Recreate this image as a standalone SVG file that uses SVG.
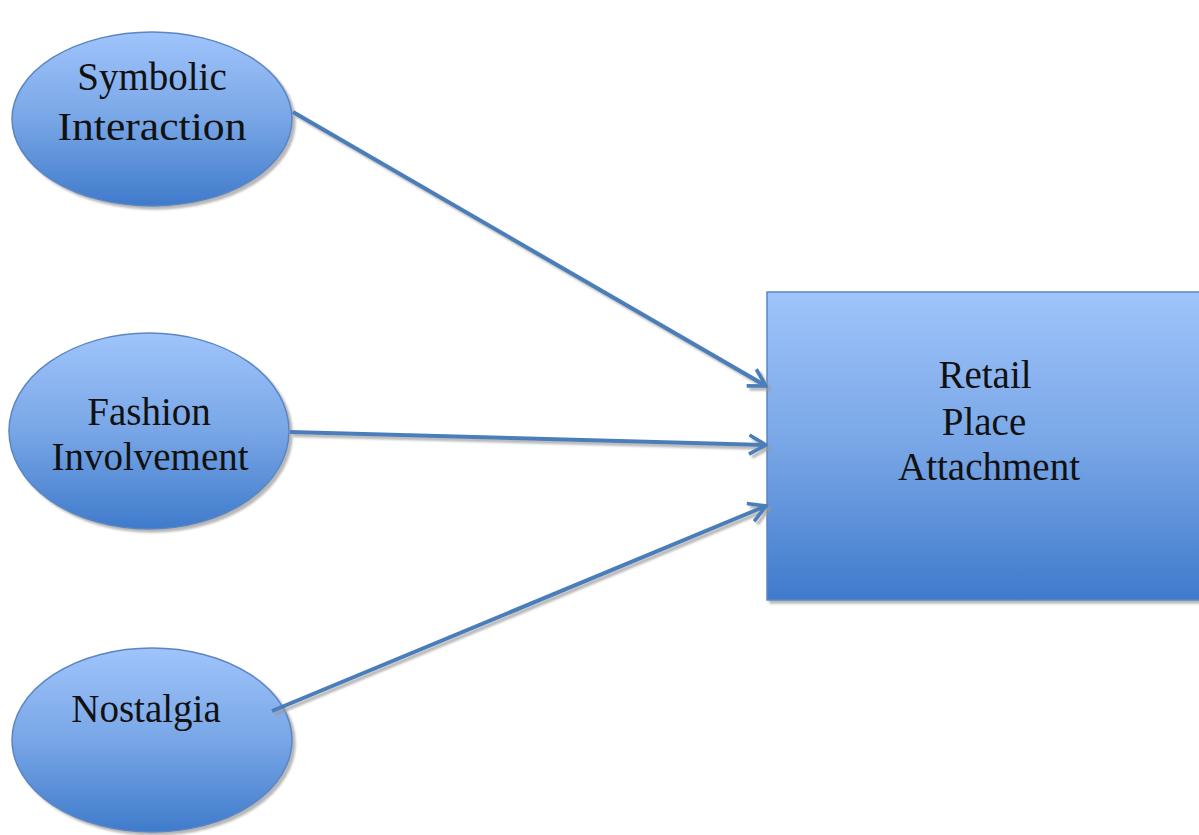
<svg xmlns="http://www.w3.org/2000/svg" width="1199" height="835" viewBox="0 0 1199 835">
<style>
.lbl{font-family:"Liberation Serif","Times New Roman",serif;font-size:39px;fill:#111;text-anchor:middle}
.node{stroke:#5A86C4;stroke-width:1.5}
.conn{fill:none;stroke:#4A7EBB;stroke-width:4;marker-end:url(#arr)}
</style>
<defs>
<linearGradient id="g" x1="0" y1="0" x2="0" y2="1">
<stop offset="0" stop-color="#A0C4FB"/>
<stop offset="0.5" stop-color="#78A6E6"/>
<stop offset="1" stop-color="#3F7BCB"/>
</linearGradient>
<filter id="sh" x="-10%" y="-10%" width="120%" height="120%">
<feDropShadow dx="3" dy="3" stdDeviation="1" flood-color="#999" flood-opacity="0.7"/>
</filter>
<marker id="arr" viewBox="0 0 20 20" refX="18" refY="10" markerWidth="6" markerHeight="6" markerUnits="strokeWidth" orient="auto">
<polyline points="4,2 18,10 4,18" fill="none" stroke="#4A7EBB" stroke-width="3"/>
</marker>
</defs>
<g id="symbolic">
<ellipse class="node" cx="152" cy="119" rx="140" ry="87" fill="url(#g)" filter="url(#sh)"/>
<text class="lbl" x="152" y="90">Symbolic</text>
<text class="lbl" x="152" y="140" textLength="189" lengthAdjust="spacingAndGlyphs">Interaction</text>
</g>
<g id="fashion">
<ellipse class="node" cx="149" cy="431" rx="140" ry="98" fill="url(#g)" filter="url(#sh)"/>
<text class="lbl" x="149" y="425">Fashion</text>
<text class="lbl" x="150" y="470">Involvement</text>
</g>
<g id="nostalgia">
<ellipse class="node" cx="152" cy="740" rx="140" ry="92" fill="url(#g)" filter="url(#sh)"/>
<text class="lbl" x="146" y="722">Nostalgia</text>
</g>
<g id="retail">
<rect class="node" x="767" y="292" width="440" height="308" fill="url(#g)" filter="url(#sh)"/>
<text class="lbl" x="985" y="388">Retail</text>
<text class="lbl" x="984" y="435">Place</text>
<text class="lbl" x="989" y="480">Attachment</text>
</g>
<g id="connectors" filter="url(#sh)">
<line class="conn" x1="293" y1="112" x2="766" y2="386"/>
<line class="conn" x1="290" y1="432" x2="766" y2="445"/>
<line class="conn" x1="272" y1="711" x2="766" y2="506"/>
</g>
</svg>
